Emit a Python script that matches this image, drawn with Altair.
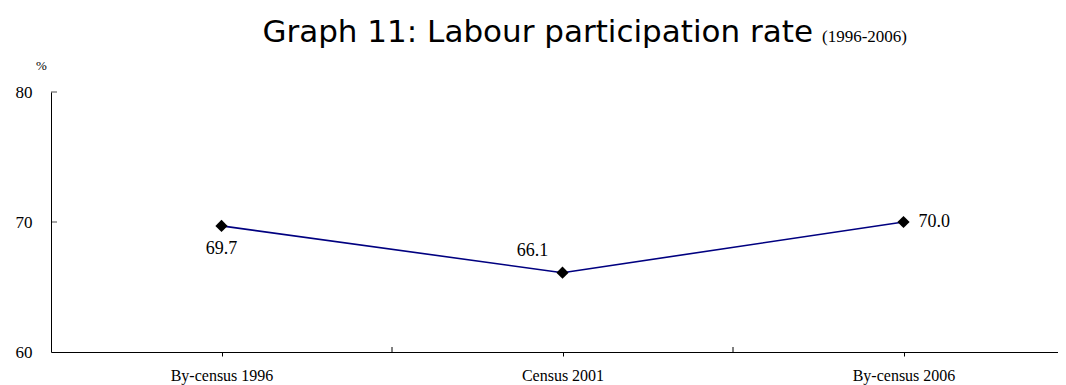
import altair as alt
import pandas as pd

categories = ["By-census 1996", "Census 2001", "By-census 2006"]
rates = [69.7, 66.1, 70.0]
rate_labels = ["69.7", "66.1", "70.0"]
y_tick_values = [60, 70, 80]
inner_ticks = [70, 80]
title_main = "Graph 11: Labour participation rate"
title_years = "(1996-2006)"
unit_label = "%"

df = pd.DataFrame({"cat": categories, "rate": rates, "label": rate_labels})
ticks_df = pd.DataFrame({"rate": inner_ticks})
bounds_df = pd.DataFrame({"cat": categories[:2]})

W = 1007
H = 260
RANGE = 1023
HALF_STEP = RANGE / len(categories) / 2

xscale = alt.Scale(type="point", domain=categories, range=[0, RANGE], padding=0.5)
yscale = alt.Scale(domain=[60, 80], nice=False, zero=False)
SERIF = "Liberation Serif"

x_axis = alt.Axis(title=None, labelFont=SERIF, labelFontSize=16, labelColor="black",
                  labelPadding=11, tickSize=4, tickColor="black", domainColor="black",
                  labelAngle=0, grid=False)
y_axis = alt.Axis(title=None, values=y_tick_values, labelFont=SERIF, labelFontSize=17,
                  labelColor="black", labelPadding=19, tickSize=0, domainColor="black",
                  grid=False)

X = alt.X("cat:N", sort=categories, scale=xscale, axis=x_axis)
Y = alt.Y("rate:Q", scale=yscale, axis=y_axis)

base = alt.Chart(df)

line = base.mark_line(color="#000080", strokeWidth=1.6).encode(x=X, y=Y)
pts = base.mark_point(shape="diamond", filled=True, color="black", size=150, opacity=1).encode(x=X, y=Y)

lab_kw = dict(font=SERIF, fontSize=18, color="black", baseline="alphabetic")
lab1 = base.transform_filter(alt.datum.cat == categories[0]).mark_text(align="center", dx=0, dy=28, **lab_kw).encode(x=X, y=Y, text="label:N")
lab2 = base.transform_filter(alt.datum.cat == categories[1]).mark_text(align="center", dx=-30, dy=-17, **lab_kw).encode(x=X, y=Y, text="label:N")
lab3 = base.transform_filter(alt.datum.cat == categories[2]).mark_text(align="left", dx=15, dy=5, **lab_kw).encode(x=X, y=Y, text="label:N")

yticks = alt.Chart(ticks_df).mark_tick(orient="horizontal", size=6, thickness=1, color="black").encode(
    y=Y, x=alt.value(3))
bticks = alt.Chart(bounds_df).mark_rule(color="black", strokeWidth=1, xOffset=HALF_STEP).encode(
    x=X, y=alt.value(H - 5), y2=alt.value(H))

t1 = alt.Chart(pd.DataFrame({"t": [title_main]})).mark_text(
    font="DejaVu Sans", fontSize=31, align="right", baseline="alphabetic", color="black").encode(
    text="t:N", x=alt.value(762), y=alt.value(-50))
t2 = alt.Chart(pd.DataFrame({"t": [title_years]})).mark_text(
    font=SERIF, fontSize=17, align="left", baseline="alphabetic", color="black").encode(
    text="t:N", x=alt.value(771), y=alt.value(-50))
t3 = alt.Chart(pd.DataFrame({"t": [unit_label]})).mark_text(
    font=SERIF, fontSize=13, align="center", baseline="alphabetic", color="black").encode(
    text="t:N", x=alt.value(-9.5), y=alt.value(-22))

chart = alt.layer(line, pts, lab1, lab2, lab3, yticks, bticks, t1, t2, t3).properties(
    width=W, height=H,
    autosize=alt.AutoSizeParams(type="none"),
    padding={"left": 43, "top": 84, "right": 0, "bottom": 33},
    background="white",
).configure_view(stroke=None)

chart.save("out.html", embed_options={"renderer": "svg", "actions": False})
